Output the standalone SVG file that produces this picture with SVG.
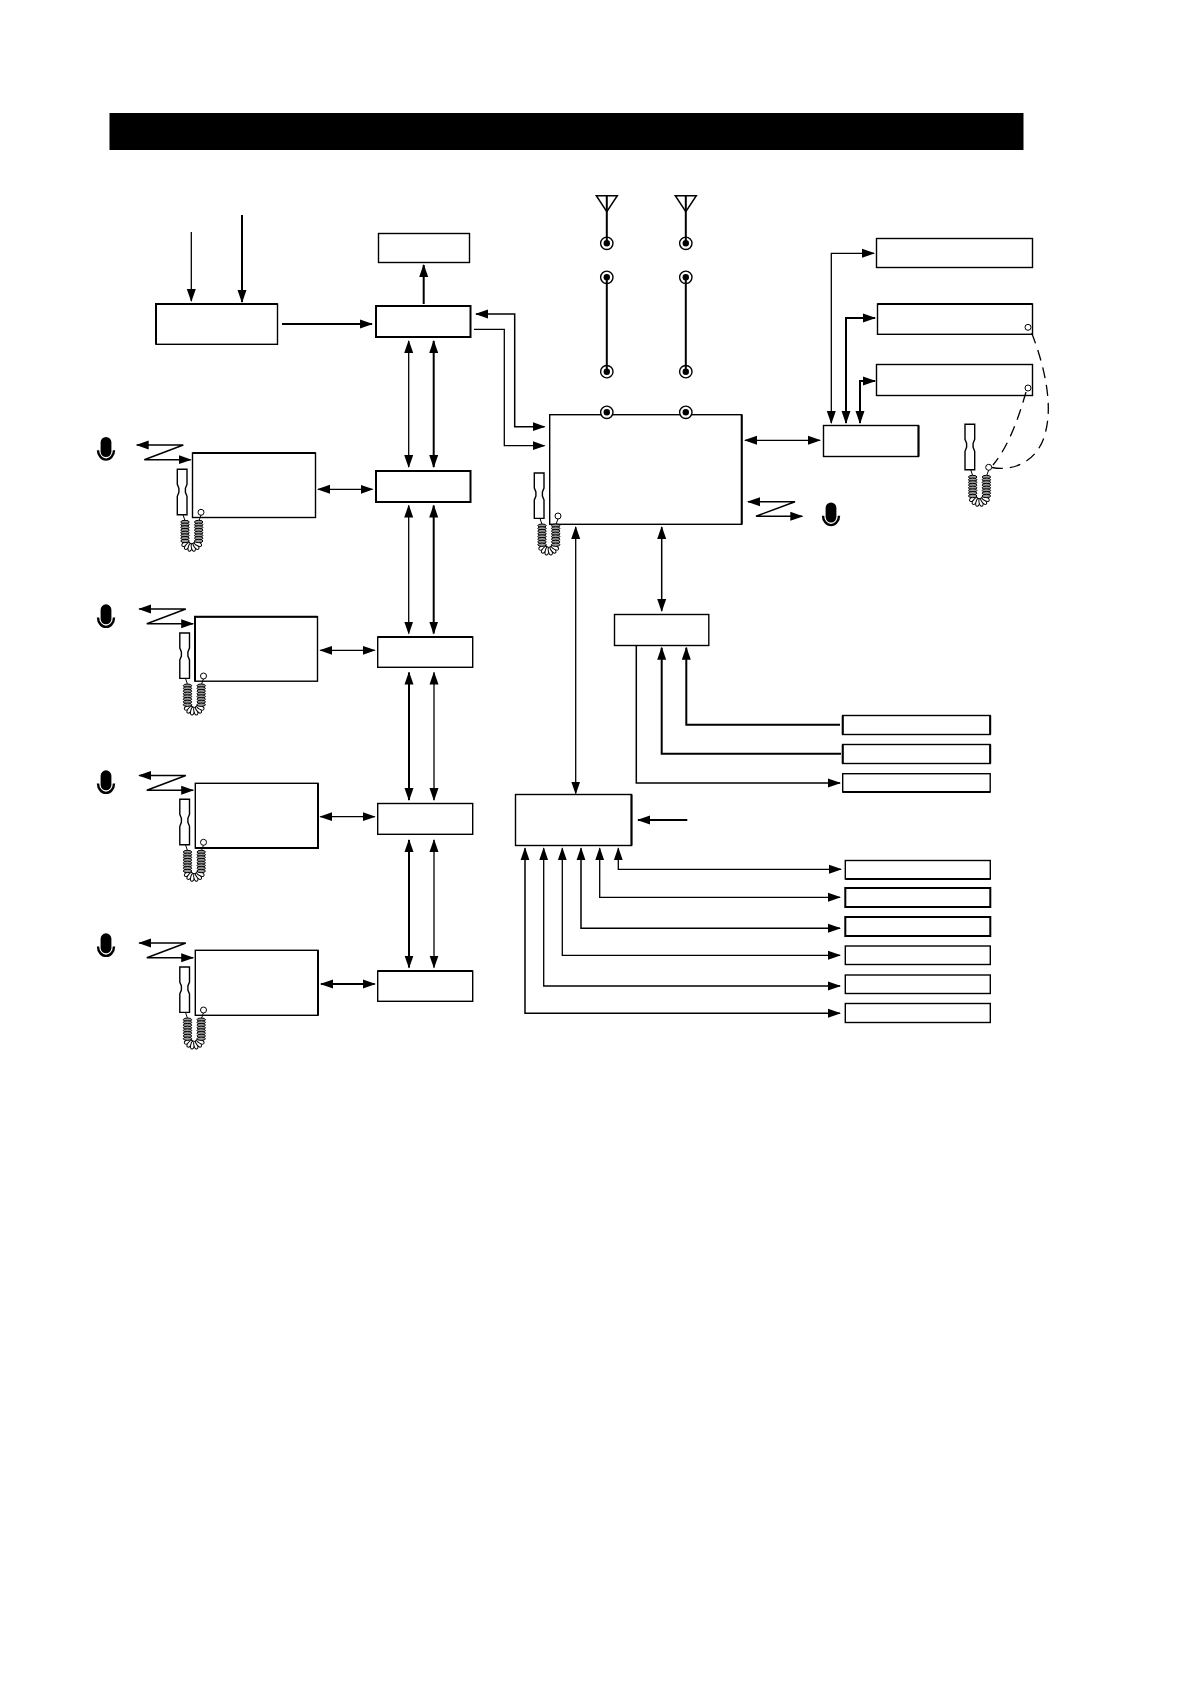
<svg xmlns="http://www.w3.org/2000/svg" xmlns:xlink="http://www.w3.org/1999/xlink" width="1191" height="1684" viewBox="0 0 1191 1684">
<style>
.b{fill:#fff;stroke:#000;stroke-width:1.4}
.B{fill:#fff;stroke:#000;stroke-width:2}
.e{fill:none;stroke:#000;stroke-width:2}
.t{fill:none;stroke:#000;stroke-width:1.3}
.m{fill:none;stroke:#000;stroke-width:1.5}
.k{fill:none;stroke:#000;stroke-width:2}
.r{fill:none;stroke:#000;stroke-width:1.4}
.a{marker-end:url(#ah)}
.d{marker-start:url(#ah);marker-end:url(#ah)}
.c{fill:#fff;stroke:#000;stroke-width:1}
.j{fill:#fff;stroke:#000;stroke-width:1.4}
.coil{fill:#999;stroke:#000;stroke-width:1}
</style>
<defs>
<marker id="ah" markerUnits="userSpaceOnUse" markerWidth="13" markerHeight="10" viewBox="0 0 13 10" refX="12" refY="5" orient="auto-start-reverse"><path d="M0,0.5L13,5L0,9.5z" fill="#000"/></marker>
<ellipse id="ring" cx="0" cy="0" rx="4.2" ry="1.7" class="coil"/>
<ellipse id="petal" cx="0" cy="7" rx="1.9" ry="4" class="c"/>
<g id="cordset">
<path class="j" d="M177.3,469.3h9.7v15l-1.6,4v4l1.6,4v18.4h-9.7v-18.4l1.6,-4v-4l-1.6,-4z"/>
<path class="c" d="M183,514.7l2,6M201,515l-2,5.7"/>
<g transform="translate(191.7,540.5)">
<use href="#petal" xlink:href="#petal" transform="rotate(62)"/>
<use href="#petal" xlink:href="#petal" transform="rotate(38)"/>
<use href="#petal" xlink:href="#petal" transform="rotate(13)"/>
<use href="#petal" xlink:href="#petal" transform="rotate(-13)"/>
<use href="#petal" xlink:href="#petal" transform="rotate(-38)"/>
<use href="#petal" xlink:href="#petal" transform="rotate(-62)"/>
</g>
<use href="#ring" xlink:href="#ring" x="185" y="522"/><use href="#ring" xlink:href="#ring" x="185" y="524.7"/><use href="#ring" xlink:href="#ring" x="185" y="527.4"/><use href="#ring" xlink:href="#ring" x="185" y="530.1"/><use href="#ring" xlink:href="#ring" x="185" y="532.8"/><use href="#ring" xlink:href="#ring" x="185" y="535.5"/><use href="#ring" xlink:href="#ring" x="185" y="538.2"/><use href="#ring" xlink:href="#ring" x="185" y="541"/>
<use href="#ring" xlink:href="#ring" x="198.7" y="522"/><use href="#ring" xlink:href="#ring" x="198.7" y="524.7"/><use href="#ring" xlink:href="#ring" x="198.7" y="527.4"/><use href="#ring" xlink:href="#ring" x="198.7" y="530.1"/><use href="#ring" xlink:href="#ring" x="198.7" y="532.8"/><use href="#ring" xlink:href="#ring" x="198.7" y="535.5"/><use href="#ring" xlink:href="#ring" x="198.7" y="538.2"/><use href="#ring" xlink:href="#ring" x="198.7" y="541"/>
<circle class="c" cx="201" cy="512.3" r="3"/>
</g>
<g id="zig"><path class="d m" d="M136.7,445H183.3L144.3,459.7H190.7"/></g>
<g id="mic">
<rect x="-5.4" y="0" width="10.8" height="20" rx="5.4" fill="#000"/>
<path d="M-8,13.2a8,9.4 0 0 0 16,0" fill="none" stroke="#000" stroke-width="2.4"/>
</g>
</defs>

<rect id="header" x="109.5" y="113" width="914" height="37" fill="#000"/>

<g id="n-input"><rect class="b" x="156" y="304" width="121.5" height="40.3"/><path class="e" d="M156,344.3V304H277.5"/></g>
<g id="n-top"><rect class="b" x="378.5" y="233.5" width="91" height="29"/></g>
<g id="n-b"><rect class="B" x="376" y="306" width="94.5" height="31"/></g>
<g id="n-c"><rect class="B" x="376" y="471" width="94.5" height="31"/></g>
<g id="n-d2"><rect class="b" x="377.7" y="637" width="95" height="30.3"/><path class="e" d="M377.7,637H472.7"/></g>
<g id="n-d3"><rect class="b" x="377.7" y="803.5" width="95" height="30.8"/></g>
<g id="n-d4"><rect class="b" x="377.7" y="971" width="95" height="30.3"/><path class="e" d="M377.7,971H472.7"/></g>

<g id="n-radio1"><rect class="b" x="192.5" y="453" width="123" height="64.5"/><path class="e" d="M192.5,453H315.5"/><use xlink:href="#cordset" href="#cordset"/><use xlink:href="#zig" href="#zig"/><use href="#mic" xlink:href="#mic" x="106" y="437"/></g>
<g id="n-radio2"><rect class="b" x="195" y="616.7" width="122.5" height="64.5"/><path class="e" d="M195,681.2V616.7H317.5"/><use href="#cordset" xlink:href="#cordset" x="2.5" y="163.7"/><use href="#zig" xlink:href="#zig" x="2.5" y="164"/><use href="#mic" xlink:href="#mic" x="106" y="604.3"/></g>
<g id="n-radio3"><rect class="b" x="195.3" y="783.3" width="122.7" height="64.7"/><path class="e" d="M318,783.3V848H195.3"/><use href="#cordset" xlink:href="#cordset" x="2.5" y="330"/><use href="#zig" xlink:href="#zig" x="2.5" y="330.5"/><use href="#mic" xlink:href="#mic" x="106" y="770.3"/></g>
<g id="n-radio4"><rect class="b" x="195.3" y="950.3" width="122.7" height="65"/><path class="e" d="M318,950.3V1015.3"/><use href="#cordset" xlink:href="#cordset" x="2.5" y="497.7"/><use href="#zig" xlink:href="#zig" x="2.5" y="498"/><use href="#mic" xlink:href="#mic" x="106" y="933.3"/></g>

<g id="n-main"><rect class="b" x="549.7" y="414.7" width="192" height="109.6"/><path class="e" d="M741.7,414.7V524.3"/><use href="#cordset" xlink:href="#cordset" x="357" y="3.7"/></g>
<g id="n-mainmic"><path class="d m" d="M802.3,516.3H756L795,501.7H748"/><use href="#mic" xlink:href="#mic" x="831" y="502.5"/></g>

<g id="n-ant1"><path class="m" d="M596.3,195.7H617.3L606.8,211.7z"/><path class="k" d="M606.8,196V243"/><circle class="r" cx="606.8" cy="243.3" r="6.2"/><circle cx="606.8" cy="243.3" r="3.2"/></g>
<g id="n-ant2"><path class="m" d="M675.3,195.7H696.3L685.8,211.7z"/><path class="k" d="M685.8,196V243"/><circle class="r" cx="685.8" cy="243.3" r="6.2"/><circle cx="685.8" cy="243.3" r="3.2"/></g>
<g id="n-cable1"><path class="k" d="M606.8,277.3V371.7"/><circle class="r" cx="606.8" cy="277.3" r="6.2"/><circle cx="606.8" cy="277.3" r="3.2"/><circle class="r" cx="606.8" cy="371.7" r="6.2"/><circle cx="606.8" cy="371.7" r="3.2"/></g>
<g id="n-cable2"><path class="k" d="M685.8,277.3V371.7"/><circle class="r" cx="685.8" cy="277.3" r="6.2"/><circle cx="685.8" cy="277.3" r="3.2"/><circle class="r" cx="685.8" cy="371.7" r="6.2"/><circle cx="685.8" cy="371.7" r="3.2"/></g>
<g id="n-port1"><circle class="c" cx="606.8" cy="412.3" r="6.2" style="stroke-width:1.4"/><circle cx="606.8" cy="412.3" r="3.2"/></g>
<g id="n-port2"><circle class="c" cx="685.8" cy="412.3" r="6.2" style="stroke-width:1.4"/><circle cx="685.8" cy="412.3" r="3.2"/></g>

<g id="n-e"><rect class="b" x="823.5" y="425.5" width="95" height="31"/><path class="e" d="M918.5,425.5V456.5"/></g>
<g id="n-f1"><rect class="b" x="876.5" y="238.5" width="156" height="29"/></g>
<g id="n-f2"><rect class="b" x="877.5" y="304" width="155" height="30.3"/><path class="e" d="M877.5,304H1032.5"/><circle class="c" cx="1028" cy="327.3" r="3"/></g>
<g id="n-f3"><rect class="b" x="876.5" y="364.5" width="156" height="31"/><circle class="c" cx="1028" cy="388" r="3"/></g>
<g id="n-handset-r"><use href="#cordset" xlink:href="#cordset" x="787.7" y="-45"/></g>

<g id="n-g"><rect class="b" x="614.5" y="614.5" width="94.3" height="31"/></g>
<g id="n-h"><rect class="b" x="515.5" y="794.5" width="116" height="51"/><path class="e" d="M631.5,794.5V845.5"/></g>
<g id="n-j1"><rect class="b" x="842.7" y="715.5" width="147.5" height="19"/><path class="e" d="M842.7,715.5V734.5M990.2,715.5V734.5"/></g>
<g id="n-j2"><rect class="b" x="842.7" y="744.5" width="147.5" height="19"/><path class="e" d="M842.7,744.5V763.5M990.2,744.5V763.5"/></g>
<g id="n-j3"><rect class="b" x="842.7" y="773.7" width="147.5" height="18.3"/><path class="e" d="M842.7,792H990.2"/></g>
<g id="n-k1"><rect class="b" x="845.3" y="860.5" width="145" height="18.5"/><path class="e" d="M845.3,879H990.3"/></g>
<g id="n-k2"><rect class="B" x="845.3" y="888" width="145" height="19"/></g>
<g id="n-k3"><rect class="B" x="845.3" y="917" width="145" height="19"/></g>
<g id="n-k4"><rect class="b" x="845.3" y="946" width="145" height="18.5"/></g>
<g id="n-k5"><rect class="b" x="845.3" y="975" width="145" height="18.5"/></g>
<g id="n-k6"><rect class="b" x="845.3" y="1003.5" width="145" height="19"/></g>

<g id="connectors">
<path class="t a" d="M191.3,232V301"/>
<path class="e a" d="M242,215V302"/>
<path class="e a" d="M282,324H372"/>
<path class="e a" d="M423.7,304V265"/>
<path class="t d" d="M408.7,341V467"/>
<path class="e d" d="M433.7,341V467"/>
<path class="t d" d="M408.7,505.5V633.5"/>
<path class="e d" d="M433.7,505.5V633.5"/>
<path class="e d" d="M409,672.5V800"/>
<path class="t d" d="M434,672.5V800"/>
<path class="e d" d="M409,840V967.5"/>
<path class="t d" d="M434,840V967.5"/>
<path class="t d" d="M318,489.3H372.5"/>
<path class="t d" d="M320.3,650.3H374.7"/>
<path class="t d" d="M320.3,816.7H374.7"/>
<path class="e d" d="M321,984H374.7"/>
<path class="m d" d="M476,314H514.7V426.7H544.5"/>
<path class="t a" d="M474,329.3H504.3V445.7H544.5"/>
<path class="t d" d="M745,440.3H820"/>
<path class="t d" d="M874,253.3H831.3V423"/>
<path class="e d" d="M875,318H846V423"/>
<path class="e d" d="M875,381H860V423"/>
<path class="m d" d="M661.7,527V611"/>
<path class="t d" d="M575.7,527V793.5"/>
<path class="m a" d="M636.3,645.5V783H840"/>
<path class="e a" d="M841,753.7H661.7V647.7"/>
<path class="e a" d="M840,724.7H686.3V647.7"/>
<path class="e a" d="M687.3,820H638"/>
<path class="t d" d="M618.3,848.3V869.3H841"/>
<path class="t d" d="M599.7,848.3V897.3H840"/>
<path class="m d" d="M581,848.3V928.3H840"/>
<path class="t d" d="M562.3,848.3V955.3H840"/>
<path class="t d" d="M543.7,848.3V986H840"/>
<path class="m d" d="M525,848.3V1013.3H840"/>
<path d="M1031.7,333C1046,370 1052,405 1046,430C1040,460 1015,472 992,467.5" fill="none" stroke="#000" stroke-width="1.3" stroke-dasharray="11 7"/>
<path d="M1026,392C1018,420 1008,447 993,465" fill="none" stroke="#000" stroke-width="1.3" stroke-dasharray="11 7"/>
</g>
</svg>
